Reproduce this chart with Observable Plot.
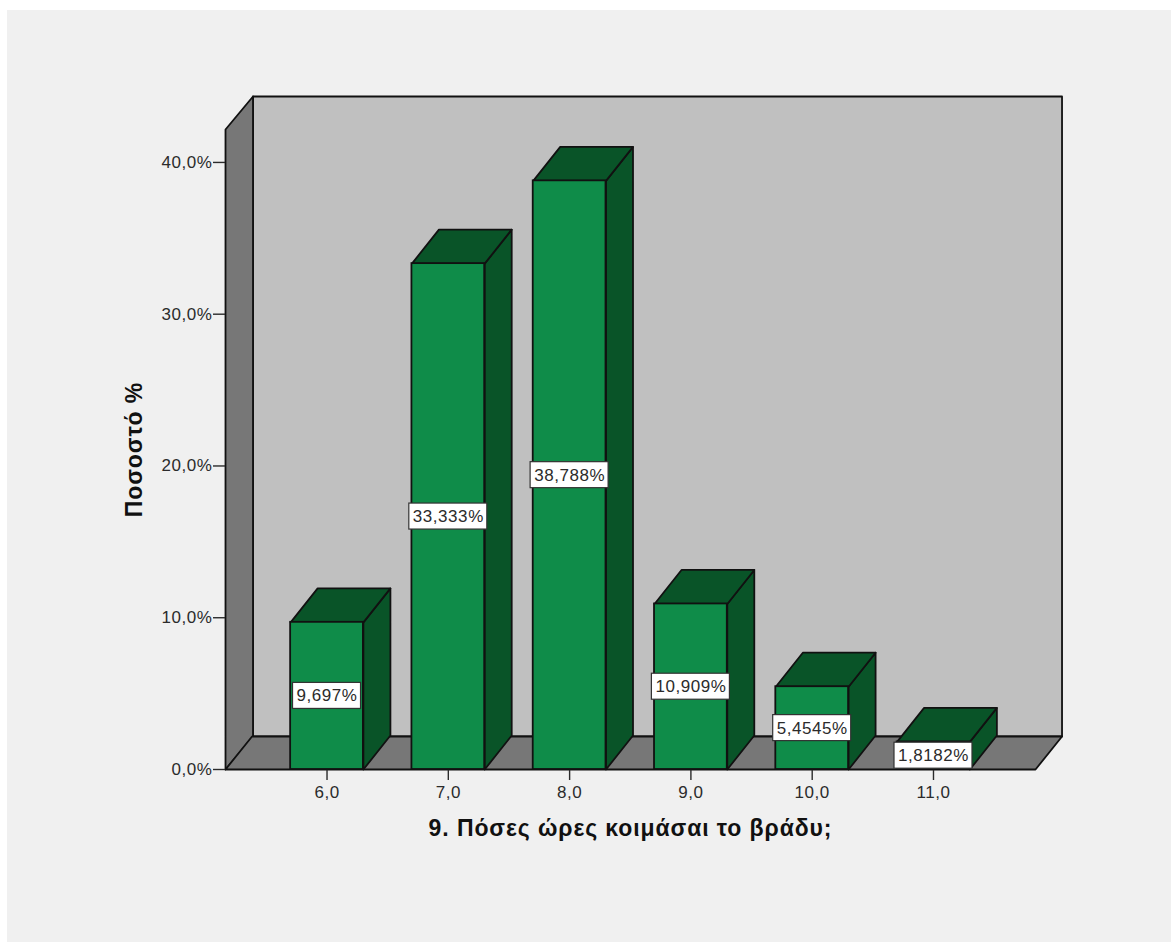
<!DOCTYPE html>
<html>
<head>
<meta charset="utf-8">
<script src="https://cdn.jsdelivr.net/npm/d3@7"></script>
<script src="https://cdn.jsdelivr.net/npm/@observablehq/plot@0.6"></script>
<style>
  html, body { margin: 0; padding: 0; background: #fff; }
  #panel { position: absolute; left: 7px; top: 10px; width: 1164px; height: 932px; background: #f0f0f0; }
  #chart { position: absolute; left: 0; top: 0; }
  .axis-title text { letter-spacing: 0.9px; }
</style>
</head>
<body>
<div id="panel"></div>
<div id="chart"></div>
<script>
// Hours of sleep per night and the share of respondents for each
const hours = [6, 7, 8, 9, 10, 11];
const percents = [9.697, 33.333, 38.788, 10.909, 5.4545, 1.8182];
const percentLabels = ["9,697%", "33,333%", "38,788%", "10,909%", "5,4545%", "1,8182%"];
const yTicks = [0, 10, 20, 30, 40];
const xTitle = "9. Πόσες ώρες κοιμάσαι το βράδυ;";
const yTitle = "Ποσοστό %";

// Chart frame in data units, plus the oblique offset that fakes the depth
const xMin = 5.163, xMax = 11.841, yMax = 42.17;
const wallDepthX = 0.2267, wallDepthY = 2.175;
const barDepthX = 0.2226, barDepthY = 2.24;
const barHalf = 0.3;

const colors = {
  wall: "#c0c0c0", shade: "#777777",
  front: "#0f8c49", dark: "#095428", line: "#111111", text: "#2b2b2b"
};

// Closed outline helpers: each returns vertices tagged with a polygon id
const poly = (id, pts) => pts.map(([x, y]) => ({id, x, y}));
const sidePoly = (id, x, y0, y1, dx, dy) => poly(id, [[x, y0], [x, y1], [x + dx, y1 + dy], [x + dx, y0 + dy]]);
const topPoly = (id, x0, x1, y, dx, dy) => poly(id, [[x0, y], [x1, y], [x1 + dx, y + dy], [x0 + dx, y + dy]]);
const face = (data, fill) => Plot.line(data, {
  x: "x", y: "y", z: "id", fill, stroke: colors.line, strokeWidth: 1.8,
  curve: "linear-closed"
});

const bars = hours.map((h, i) => ({h, v: percents[i], label: percentLabels[i], x0: h - barHalf, x1: h + barHalf}));

const backWall = poly("back", [
  [xMin + wallDepthX, wallDepthY], [xMax + wallDepthX - 0.008, wallDepthY],
  [xMax + wallDepthX - 0.008, yMax + wallDepthY], [xMin + wallDepthX, yMax + wallDepthY]
]);
const sideWall = sidePoly("side", xMin, 0, yMax, wallDepthX, wallDepthY);
const floor = topPoly("floor", xMin, xMax, 0, wallDepthX - 0.008, wallDepthY);
const barSides = bars.flatMap((b) => sidePoly(`s${b.h}`, b.x1, 0, b.v, barDepthX, barDepthY));
const barTops = bars.flatMap((b) => topPoly(`t${b.h}`, b.x0, b.x1, b.v, barDepthX, barDepthY));

const comma = (d, suffix = "") => d.toFixed(1).replace(".", ",") + suffix;

const chart = Plot.plot({
  width: 1171,
  height: 942,
  marginLeft: 225,
  marginRight: 136,
  marginTop: 129,
  marginBottom: 173,
  style: {background: "transparent", fontFamily: "'Liberation Sans', Arial, sans-serif", fontSize: "17px", letterSpacing: "0.55px", color: colors.text, overflow: "visible"},
  x: {domain: [xMin, xMax]},
  y: {domain: [0, yMax]},
  marks: [
    face(backWall, colors.wall),
    face(sideWall, colors.shade),
    face(floor, colors.shade),
    Plot.axisY({
      ticks: yTicks, tickFormat: (d) => comma(d, "%"), label: null,
      tickSize: 12, tickPadding: 1, stroke: colors.text, strokeWidth: 1.4
    }),
    Plot.axisX({
      ticks: hours, tickFormat: (d) => comma(d), label: null,
      tickSize: 11, tickPadding: 5, stroke: colors.text, strokeWidth: 1.4
    }),
    face(barSides, colors.dark),
    face(barTops, colors.dark),
    Plot.rect(bars, {
      x1: "x0", x2: "x1", y1: 0, y2: "v",
      fill: colors.front, stroke: colors.line, strokeWidth: 1.8
    }),
    // White value tags centred half way up each bar
    Plot.rect(bars, {
      x1: (b) => b.h - (b.label.length * 10 + 8) / 2 / 121.3,
      x2: (b) => b.h + (b.label.length * 10 + 8) / 2 / 121.3,
      y1: (b) => b.v / 2 - 13 / 15.175,
      y2: (b) => b.v / 2 + 13 / 15.175,
      fill: "#ffffff", stroke: "#333333", strokeWidth: 1.2
    }),
    Plot.text(bars, {x: "h", y: (b) => b.v / 2, text: "label", fill: colors.text, fontSize: 17}),
    Plot.text([xTitle], {frameAnchor: "bottom", dy: 66, fontWeight: "bold", fontSize: 23, fill: "#111", className: "axis-title"}),
    Plot.text([yTitle], {frameAnchor: "left", textAnchor: "middle", dx: -91, rotate: -90, fontWeight: "bold", fontSize: 23, fill: "#111", className: "axis-title"})
  ]
});
document.getElementById("chart").appendChild(chart);
</script>
</body>
</html>
